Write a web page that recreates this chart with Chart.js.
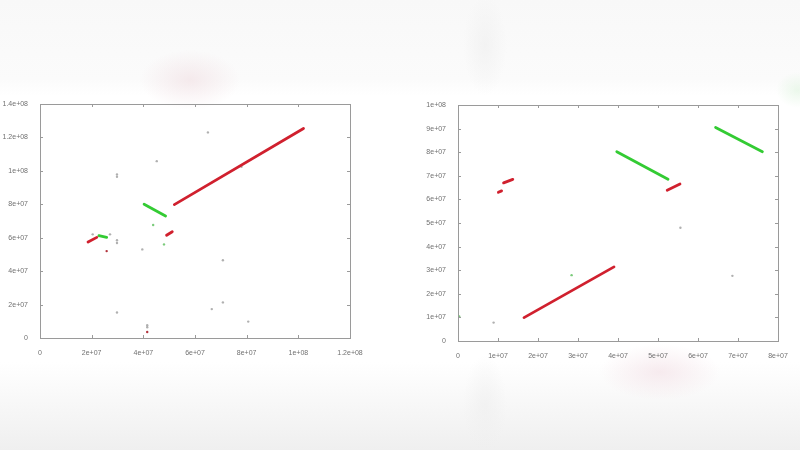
<!DOCTYPE html>
<html>
<head>
<meta charset="utf-8">
<script src="https://cdn.jsdelivr.net/npm/chart.js@4/dist/chart.umd.min.js"></script>
<style>
  html, body { margin: 0; padding: 0; }
  body {
    width: 800px; height: 450px; position: relative; overflow: hidden;
    background:
      radial-gradient(ellipse 50px 30px at 190px 80px, rgba(240,222,226,0.6), rgba(255,255,255,0) 100%),
      radial-gradient(ellipse 60px 28px at 660px 372px, rgba(242,222,228,0.6), rgba(255,255,255,0) 100%),
      radial-gradient(ellipse 22px 50px at 485px 45px, rgba(238,238,238,0.6), rgba(255,255,255,0) 100%),
      radial-gradient(ellipse 22px 50px at 485px 405px, rgba(238,238,238,0.6), rgba(255,255,255,0) 100%),
      radial-gradient(ellipse 22px 18px at 798px 90px, rgba(222,244,222,0.6), rgba(255,255,255,0) 100%),
      linear-gradient(to bottom, #f8f8f8 0px, #fbfbfb 80px, #ffffff 96px, #ffffff 362px, #f9f9f9 395px, #efefef 450px);
  }
  .box { position: absolute; top: 92px; height: 268px; }
  #left { left: 0px; width: 372px; }
  #right { left: 415px; width: 385px; }
</style>
</head>
<body>
<div class="box" id="left"><canvas id="c1"></canvas></div>
<div class="box" id="right"><canvas id="c2"></canvas></div>
<script>
// ---- left dot plot ----
var leftXTicks = [0, 2e7, 4e7, 6e7, 8e7, 1e8, 1.2e8];
var leftXLabels = ['0', '2e+07', '4e+07', '6e+07', '8e+07', '1e+08', '1.2e+08'];
var leftYTicks = [0, 2e7, 4e7, 6e7, 8e7, 1e8, 1.2e8, 1.4e8];
var leftYLabels = ['0', '2e+07', '4e+07', '6e+07', '8e+07', '1e+08', '1.2e+08', '1.4e+08'];
// segments: [x0, y0, x1, y1]
var leftRed = [
  [52.0e6, 79.8e6, 102.0e6, 125.3e6],
  [49.0e6, 61.5e6, 51.2e6, 63.6e6],
  [18.6e6, 57.4e6, 22.0e6, 60.2e6]
];
var leftGreen = [
  [40.3e6, 80.0e6, 48.6e6, 73.0e6],
  [22.8e6, 61.2e6, 25.8e6, 60.2e6]
];
var leftDotsX = [29.8e6, 29.8e6, 29.8e6, 29.8e6, 29.8e6, 41.5e6, 41.5e6, 39.6e6, 45.2e6, 65.0e6, 70.8e6, 70.8e6, 66.5e6, 80.6e6, 78.0e6, 20.4e6, 27.1e6];
var leftDotsY = [97.8e6, 96.4e6, 58.5e6, 56.8e6, 15.3e6, 7.6e6, 6.4e6, 53.0e6, 105.8e6, 123.0e6, 46.5e6, 21.3e6, 17.3e6, 9.8e6, 102.4e6, 62.0e6, 62.0e6];
var leftRedDotsX = [25.8e6, 41.5e6];
var leftRedDotsY = [52.0e6, 3.6e6];
var leftGreenDotsX = [43.8e6, 48.0e6];
var leftGreenDotsY = [67.6e6, 56.0e6];

// ---- right dot plot ----
var rightXTicks = [0, 1e7, 2e7, 3e7, 4e7, 5e7, 6e7, 7e7, 8e7];
var rightXLabels = ['0', '1e+07', '2e+07', '3e+07', '4e+07', '5e+07', '6e+07', '7e+07', '8e+07'];
var rightYTicks = [0, 1e7, 2e7, 3e7, 4e7, 5e7, 6e7, 7e7, 8e7, 9e7, 1e8];
var rightYLabels = ['0', '1e+07', '2e+07', '3e+07', '4e+07', '5e+07', '6e+07', '7e+07', '8e+07', '9e+07', '1e+08'];
var rightRed = [
  [16.5e6, 9.9e6, 39.0e6, 31.4e6],
  [52.3e6, 63.9e6, 55.5e6, 66.5e6],
  [10.1e6, 63.0e6, 10.9e6, 63.6e6],
  [11.4e6, 67.0e6, 13.7e6, 68.5e6]
];
var rightGreen = [
  [39.7e6, 80.2e6, 52.5e6, 68.5e6],
  [64.4e6, 90.5e6, 76.1e6, 80.2e6]
];
var rightDotsX = [8.9e6, 55.6e6, 68.6e6];
var rightDotsY = [7.8e6, 48.0e6, 27.6e6];
var rightGreenDotsX = [28.4e6, 0.3e6];
var rightGreenDotsY = [27.9e6, 10.4e6];

function segs(list, color, width) {
  return list.map(function(s) {
    return {
      type: 'line',
      data: [{x: s[0], y: s[1]}, {x: s[2], y: s[3]}],
      borderColor: color,
      borderWidth: width,
      pointRadius: 0,
      borderCapStyle: 'round'
    };
  });
}

function dots(xs, ys, color) {
  return {
    type: 'scatter',
    data: xs.map(function(x, k) { return {x: x, y: ys[k]}; }),
    backgroundColor: color,
    borderWidth: 0,
    pointRadius: 1.2
  };
}

// gnuplot-like frame with inward ticks on all four sides
var framePlugin = {
  id: 'frame',
  afterDatasetsDraw: function(chart) {
    var ctx = chart.ctx, a = chart.chartArea;
    var sx = chart.scales.x, sy = chart.scales.y;
    ctx.save();
    ctx.strokeStyle = '#9a9a9a';
    ctx.lineWidth = 1;
    ctx.strokeRect(Math.round(a.left) + 0.5, Math.round(a.top) + 0.5,
                   Math.round(a.right - a.left), Math.round(a.bottom - a.top));
    ctx.beginPath();
    sx.ticks.forEach(function(t) {
      var px = Math.round(sx.getPixelForValue(t.value)) + 0.5;
      ctx.moveTo(px, a.bottom); ctx.lineTo(px, a.bottom - 3);
      ctx.moveTo(px, a.top); ctx.lineTo(px, a.top + 3);
    });
    sy.ticks.forEach(function(t) {
      var py = Math.round(sy.getPixelForValue(t.value)) + 0.5;
      ctx.moveTo(a.left, py); ctx.lineTo(a.left + 3, py);
      ctx.moveTo(a.right, py); ctx.lineTo(a.right - 3, py);
    });
    ctx.stroke();
    ctx.restore();
  }
};

function makeChart(id, datasets, xt, xl, yt, yl, yWidth, xHeight, pad) {
  return new Chart(document.getElementById(id), {
    type: 'scatter',
    data: { datasets: datasets },
    options: {
      responsive: true,
      maintainAspectRatio: false,
      animation: false,
      layout: { padding: pad },
      plugins: { legend: { display: false }, tooltip: { enabled: false } },
      scales: {
        x: {
          type: 'linear', min: xt[0], max: xt[xt.length - 1],
          afterBuildTicks: function(s) { s.ticks = xt.map(function(v) { return {value: v}; }); },
          afterFit: function(s) { s.height = xHeight; s.paddingLeft = 0; s.paddingRight = 0; },
          grid: { display: false },
          border: { display: false },
          ticks: {
            autoSkip: false, maxRotation: 0, padding: 3,
            color: '#707070', font: { family: 'Liberation Sans', size: 7 },
            callback: function(v) { var k = xt.indexOf(v); return k >= 0 ? xl[k] : ''; }
          }
        },
        y: {
          type: 'linear', min: yt[0], max: yt[yt.length - 1],
          afterBuildTicks: function(s) { s.ticks = yt.map(function(v) { return {value: v}; }); },
          afterFit: function(s) { s.width = yWidth; s.paddingTop = 0; s.paddingBottom = 0; },
          grid: { display: false },
          border: { display: false },
          ticks: {
            autoSkip: false, padding: 4,
            color: '#707070', font: { family: 'Liberation Sans', size: 7 },
            callback: function(v) { var k = yt.indexOf(v); return k >= 0 ? yl[k] : ''; }
          }
        }
      }
    },
    plugins: [framePlugin]
  });
}

var red = 'rgba(205, 20, 35, 0.95)';
var green = 'rgba(40, 200, 40, 0.95)';

var leftSets = []
  .concat(segs(leftRed, red, 2.8))
  .concat(segs(leftGreen, green, 2.8))
  .concat([dots(leftDotsX, leftDotsY, 'rgba(150,150,150,0.75)'),
           dots(leftRedDotsX, leftRedDotsY, 'rgba(170,30,40,0.9)'),
           dots(leftGreenDotsX, leftGreenDotsY, 'rgba(90,190,90,0.8)')]);

var rightSets = []
  .concat(segs(rightRed, red, 2.8))
  .concat(segs(rightGreen, green, 2.8))
  .concat([dots(rightDotsX, rightDotsY, 'rgba(150,150,150,0.75)'),
           dots(rightGreenDotsX, rightGreenDotsY, 'rgba(90,190,90,0.8)')]);

makeChart('c1', leftSets, leftXTicks, leftXLabels, leftYTicks, leftYLabels, 40, 22,
          { top: 12, right: 22, left: 0, bottom: 0 });
makeChart('c2', rightSets, rightXTicks, rightXLabels, rightYTicks, rightYLabels, 43, 19,
          { top: 13, right: 22, left: 0, bottom: 0 });
</script>
</body>
</html>
